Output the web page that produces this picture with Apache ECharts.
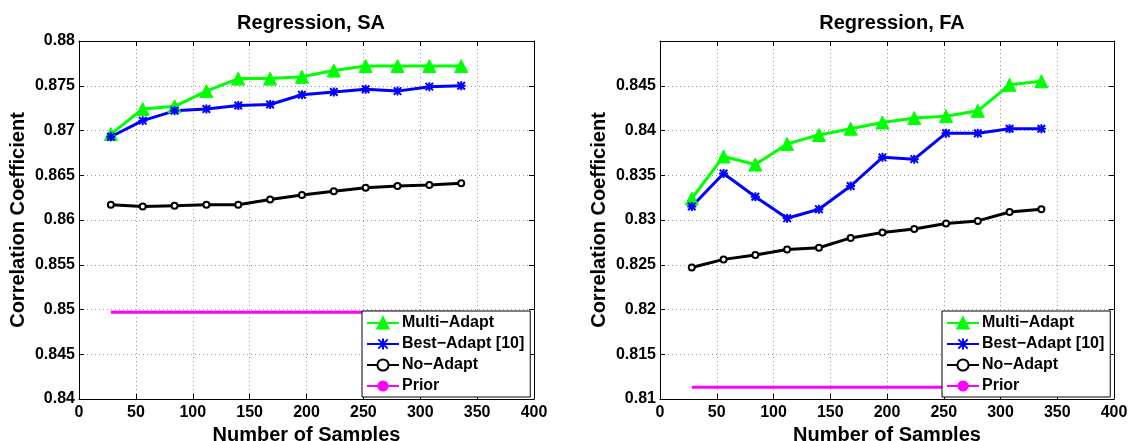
<!DOCTYPE html>
<html>
<head>
<meta charset="utf-8">
<script src="https://cdn.jsdelivr.net/npm/echarts@6/dist/echarts.min.js"></script>
<style>
  html, body { margin: 0; padding: 0; background: #fff; }
  #main { width: 1132px; height: 441px; }
</style>
</head>
<body>
<div id="main"></div>
<script>
// sample counts on the x axis
var sampleCounts = [28, 56, 84, 112, 140, 168, 196, 224, 252, 280, 308, 336];

// Regression, SA
var saMulti = [0.8696, 0.8724, 0.8727, 0.8744, 0.8758, 0.8758, 0.8760, 0.8767, 0.8772, 0.8772, 0.8772, 0.8772];
var saBest  = [0.8693, 0.8711, 0.8722, 0.8724, 0.8728, 0.8729, 0.8740, 0.8743, 0.8746, 0.8744, 0.8749, 0.8750];
var saNo    = [0.8617, 0.8615, 0.8616, 0.8617, 0.8617, 0.8623, 0.8628, 0.8632, 0.8636, 0.8638, 0.8639, 0.8641];
var saPrior = 0.8497;

// Regression, FA
var faMulti = [0.8324, 0.8371, 0.8362, 0.8385, 0.8395, 0.8402, 0.8409, 0.8414, 0.8416, 0.8422, 0.8451, 0.8455];
var faBest  = [0.8315, 0.8352, 0.8326, 0.8302, 0.8312, 0.8338, 0.8370, 0.8368, 0.8397, 0.8397, 0.8402, 0.8402];
var faNo    = [0.8247, 0.8256, 0.8261, 0.8267, 0.8269, 0.8280, 0.8286, 0.8290, 0.8296, 0.8299, 0.8309, 0.8312];
var faPrior = 0.8113;

var xTicks = [0, 50, 100, 150, 200, 250, 300, 350, 400];

var names = ['Multi\u2212Adapt', 'Best\u2212Adapt [10]', 'No\u2212Adapt', 'Prior'];
var FONT = '"Liberation Sans", Arial, sans-serif';
var starPath = 'path://M0,0L10,10M10,0L0,10M5,-1L5,11M-1,5L11,5';

var myChart = echarts.init(document.getElementById('main'));

function pairs(vals) {
    var out = [];
    for (var i in vals) {
        out.push([sampleCounts[i], vals[i]]);
    }
    return out;
}

function priorLine(v) {
    return [[sampleCounts[0], v], [sampleCounts[sampleCounts.length - 1], v]];
}

function fmt(v) {
    return String(+v.toFixed(3));
}

var labelStyle = { color: '#000', fontWeight: 'bold', fontSize: 16, fontFamily: FONT };
var nameStyle = { color: '#000', fontWeight: 'bold', fontSize: 20, fontFamily: FONT };
var gridDots = { show: true, lineStyle: { type: [1, 3], color: '#999', width: 1 } };
var frame = { show: true, onZero: false, lineStyle: { color: '#000', width: 1 } };
var innerTick = { show: true, inside: true, length: 5, lineStyle: { color: '#000' } };

function xAxes(gi) {
    return [{
        type: 'value', gridIndex: gi, min: xTicks[0], max: xTicks[xTicks.length - 1], interval: 50,
        name: 'Number of Samples', nameLocation: 'middle', nameGap: 19, nameTextStyle: nameStyle,
        axisLine: frame, axisTick: innerTick,
        axisLabel: { margin: 6, textStyle: labelStyle },
        splitLine: gridDots
    }, {
        type: 'value', gridIndex: gi, position: 'top', min: 0, max: 400, interval: 50,
        axisLine: frame, axisTick: innerTick,
        axisLabel: { show: false }, splitLine: { show: false }
    }];
}

function yAxes(gi, lo, hi, showMax) {
    return [{
        type: 'value', gridIndex: gi, position: 'left', min: lo, max: hi, interval: 0.005,
        name: 'Correlation Coefficient', nameLocation: 'middle', nameGap: 51, nameTextStyle: nameStyle,
        axisLine: frame, axisTick: innerTick,
        axisLabel: { margin: 4, formatter: fmt, showMaxLabel: showMax, textStyle: labelStyle },
        splitLine: gridDots
    }, {
        type: 'value', gridIndex: gi, position: 'right', min: lo, max: hi, interval: 0.005,
        axisLine: frame, axisTick: innerTick,
        axisLabel: { show: false }, splitLine: { show: false }
    }];
}

function seriesFor(gi, multi, best, no, prior) {
    var xi = gi * 2, yi = gi * 2;
    return [
        {
            name: names[0], type: 'line', xAxisIndex: xi, yAxisIndex: yi, data: pairs(multi),
            symbol: 'triangle', symbolSize: 13,
            lineStyle: { color: '#00ff00', width: 3 },
            itemStyle: { color: '#00ff00', borderColor: '#00ff00', borderWidth: 1 }
        },
        {
            name: names[1], type: 'line', xAxisIndex: xi, yAxisIndex: yi, data: pairs(best),
            symbol: starPath, symbolSize: 9,
            lineStyle: { color: '#0000ff', width: 3 },
            itemStyle: { color: '#0000ff', borderColor: '#0000ff', borderWidth: 2 }
        },
        {
            name: names[2], type: 'line', xAxisIndex: xi, yAxisIndex: yi, data: pairs(no),
            symbol: 'emptyCircle', symbolSize: 6,
            lineStyle: { color: '#000', width: 3 },
            itemStyle: { color: '#000', borderColor: '#000', borderWidth: 2.5 }
        },
        {
            name: names[3], type: 'line', xAxisIndex: xi, yAxisIndex: yi, data: priorLine(prior),
            symbol: 'none', z: 1,
            lineStyle: { color: '#ff00ff', width: 3 },
            itemStyle: { color: '#ff00ff' }
        }
    ];
}

function legendAt(left, top) {
    return {
        data: names, orient: 'vertical', left: left, top: top,
        backgroundColor: '#fff', borderColor: '#000', borderWidth: 1, borderRadius: 0,
        padding: [4, 6, 3, 4], itemWidth: 32, itemHeight: 14, itemGap: 5,
        selectedMode: false, z: 10,
        textStyle: { color: '#000', fontWeight: 'bold', fontSize: 16, fontFamily: FONT, padding: [0, 0, 0, -2] }
    };
}

var titleStyle = { color: '#000', fontWeight: 'bold', fontSize: 20, fontFamily: FONT };

var option = {
    animation: false,
    backgroundColor: '#fff',
    title: [
        { text: 'Regression, SA', left: 306, top: 8, textAlign: 'center', textStyle: titleStyle },
        { text: 'Regression, FA', left: 887, top: 8, textAlign: 'center', textStyle: titleStyle }
    ],
    legend: [legendAt(362, 311), legendAt(942, 311)],
    grid: [
        { left: 79, top: 41, width: 455, height: 358, containLabel: false, outerBoundsMode: 'none' },
        { left: 660, top: 41, width: 454, height: 358, containLabel: false, outerBoundsMode: 'none' }
    ],
    xAxis: xAxes(0).concat(xAxes(1)),
    yAxis: yAxes(0, 0.84, 0.88, true).concat(yAxes(1, 0.81, 0.85, false)),
    series: seriesFor(0, saMulti, saBest, saNo, saPrior).concat(seriesFor(1, faMulti, faBest, faNo, faPrior))
};
myChart.setOption(option);
</script>
</body>
</html>
